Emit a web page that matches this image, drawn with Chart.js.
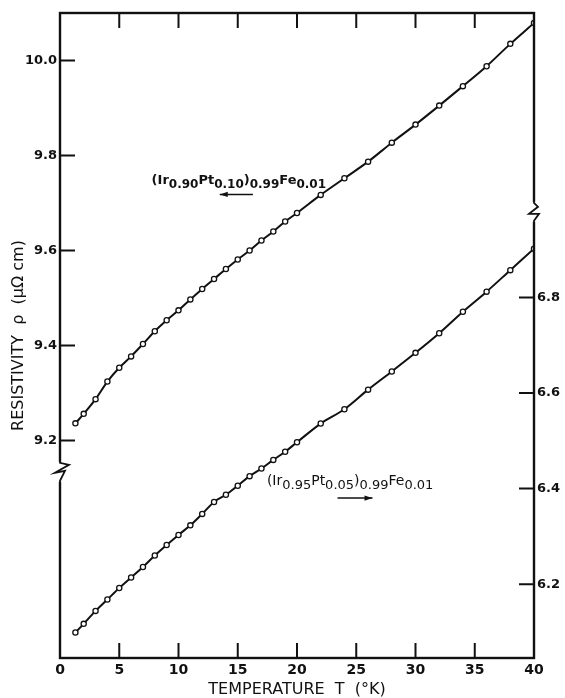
<!DOCTYPE html>
<html>
<head>
<meta charset="utf-8">
<script src="https://cdn.jsdelivr.net/npm/chart.js@4/dist/chart.umd.min.js"></script>
<style>
  html, body { margin: 0; padding: 0; background: #fff; }
  #wrap { width: 565px; height: 698px; }
</style>
</head>
<body>
<div id="wrap"><canvas id="c" width="565" height="698"></canvas></div>
<script>
// ---- data ----
const T_VALUES = [1.3, 2, 3, 4, 5, 6, 7, 8, 9, 10, 11, 12, 13, 14, 15, 16, 17, 18, 19, 20, 22, 24, 26, 28, 30, 32, 34, 36, 38, 40];
// (Ir0.90Pt0.10)0.99Fe0.01  -> left axis
const RHO_PT10 = [9.236, 9.256, 9.287, 9.324, 9.353, 9.377, 9.403, 9.430, 9.453, 9.474, 9.497, 9.519, 9.540, 9.561, 9.581, 9.600, 9.621, 9.640, 9.661, 9.679, 9.717, 9.752, 9.787, 9.827, 9.865, 9.905, 9.946, 9.988, 10.035, 10.079];
// (Ir0.95Pt0.05)0.99Fe0.01  -> right axis
const RHO_PT05 = [6.099, 6.117, 6.144, 6.168, 6.192, 6.214, 6.236, 6.260, 6.282, 6.303, 6.323, 6.347, 6.372, 6.387, 6.406, 6.426, 6.442, 6.460, 6.477, 6.497, 6.536, 6.566, 6.607, 6.645, 6.684, 6.725, 6.770, 6.812, 6.857, 6.902];

const X_TICKS = [0, 5, 10, 15, 20, 25, 30, 35, 40];
const LEFT_TICKS = [9.2, 9.4, 9.6, 9.8, 10.0];
const RIGHT_TICKS = [6.2, 6.4, 6.6, 6.8];

const X_TITLE = 'TEMPERATURE  T  (\u00B0K)';
const Y_TITLE = 'RESISTIVITY  \u03C1  (\u03BC\u03A9 cm)';

const LABEL_PT10 = [['(Ir', 0], ['0.90', 1], ['Pt', 0], ['0.10', 1], [')', 0], ['0.99', 1], ['Fe', 0], ['0.01', 1]];
const LABEL_PT05 = [['(Ir', 0], ['0.95', 1], ['Pt', 0], ['0.05', 1], [')', 0], ['0.99', 1], ['Fe', 0], ['0.01', 1]];

// ---- options ----
const X_RANGE = [0, 40];
const LEFT_RANGE = [8.742, 10.100];
const RIGHT_RANGE = [6.0455, 7.395];
const LEFT_BREAK = 9.134;
const RIGHT_BREAK = 6.979;

const FONT = 'DejaVu Sans';
const INK = '#111';

function pts(xs, ys) { return xs.map((x, i) => ({ x: x, y: ys[i] })); }

function drawChem(ctx, x, y, parts, mainFont, subFont, subDy) {
  ctx.textAlign = 'left';
  ctx.textBaseline = 'alphabetic';
  let cx = x;
  parts.forEach(([t, sub]) => {
    ctx.font = sub ? subFont : mainFont;
    ctx.fillText(t, cx, sub ? y + subDy : y);
    cx += ctx.measureText(t).width;
  });
}

function drawArrow(ctx, x1, x2, y, headAtEnd) {
  ctx.beginPath();
  ctx.moveTo(x1, y); ctx.lineTo(x2, y);
  ctx.lineWidth = 1.5;
  ctx.stroke();
  const hx = headAtEnd ? x2 : x1;
  const dir = headAtEnd ? -1 : 1;
  ctx.beginPath();
  ctx.moveTo(hx, y);
  ctx.lineTo(hx + dir * 8, y - 2.6);
  ctx.lineTo(hx + dir * 8, y + 2.6);
  ctx.closePath();
  ctx.fill();
}

function drawBreak(ctx, x, y, shape) {
  ctx.fillStyle = '#fff';
  ctx.fillRect(x - 9, y - 10, 20, 20);
  ctx.fillStyle = INK;
  ctx.beginPath();
  shape.forEach(([dx, dy], i) => { if (i === 0) ctx.moveTo(x + dx, y + dy); else ctx.lineTo(x + dx, y + dy); });
  ctx.lineWidth = 1.8;
  ctx.stroke();
}

const decor = {
  id: 'decor',
  afterDraw(chart) {
    const { ctx, chartArea: a, scales } = chart;
    const xs = scales.x, yl = scales.y, yr = scales.y2;
    ctx.save();
    ctx.strokeStyle = INK;
    ctx.fillStyle = INK;
    // frame
    ctx.lineWidth = 2.4;
    ctx.strokeRect(a.left, a.top, a.right - a.left, a.bottom - a.top);
    // inward ticks
    ctx.lineWidth = 2;
    ctx.beginPath();
    X_TICKS.forEach(v => {
      if (v <= xs.min || v >= xs.max) return;
      const px = xs.getPixelForValue(v);
      ctx.moveTo(px, a.top); ctx.lineTo(px, a.top + 15);
      ctx.moveTo(px, a.bottom); ctx.lineTo(px, a.bottom - 15);
    });
    LEFT_TICKS.forEach(v => { const py = yl.getPixelForValue(v); ctx.moveTo(a.left, py); ctx.lineTo(a.left + 15, py); });
    RIGHT_TICKS.forEach(v => { const py = yr.getPixelForValue(v); ctx.moveTo(a.right, py); ctx.lineTo(a.right - 15, py); });
    ctx.stroke();
    // axis breaks
    drawBreak(ctx, a.left, yl.getPixelForValue(LEFT_BREAK), [[0, -11], [0, -9], [9, -7], [-5, 1], [5, -1], [0, 9], [0, 11]]);
    drawBreak(ctx, a.right, yr.getPixelForValue(RIGHT_BREAK), [[0, -11], [0, -9], [4, -5], [-5, 2], [5, 2], [0, 9], [0, 11]]);
    // series labels
    ctx.fillStyle = INK; ctx.strokeStyle = INK;
    drawChem(ctx, xs.getPixelForValue(7.73), yl.getPixelForValue(9.741), LABEL_PT10,
      'bold 13px "' + FONT + '"', 'bold 12px "' + FONT + '"', 4);
    drawArrow(ctx, xs.getPixelForValue(13.48), xs.getPixelForValue(16.28), yl.getPixelForValue(9.718), false);
    drawChem(ctx, xs.getPixelForValue(17.46), yr.getPixelForValue(6.407), LABEL_PT05,
      '14px "' + FONT + '"', '13px "' + FONT + '"', 4);
    drawArrow(ctx, xs.getPixelForValue(23.42), xs.getPixelForValue(26.37), yr.getPixelForValue(6.380), true);
    ctx.restore();
  }
};

const seriesStyle = {
  borderColor: INK,
  borderWidth: 2,
  pointRadius: 2.6,
  pointBorderWidth: 1.3,
  pointBackgroundColor: '#fff',
  pointBorderColor: INK,
  cubicInterpolationMode: 'monotone',
  fill: false
};

new Chart(document.getElementById('c'), {
  type: 'line',
  data: {
    datasets: [
      Object.assign({ label: '(Ir0.90Pt0.10)0.99Fe0.01', data: pts(T_VALUES, RHO_PT10), yAxisID: 'y' }, seriesStyle),
      Object.assign({ label: '(Ir0.95Pt0.05)0.99Fe0.01', data: pts(T_VALUES, RHO_PT05), yAxisID: 'y2' }, seriesStyle)
    ]
  },
  options: {
    responsive: false,
    animation: false,
    devicePixelRatio: 1,
    layout: { padding: { top: 13, left: 0, right: 0, bottom: 0 } },
    plugins: { legend: { display: false }, tooltip: { enabled: false } },
    scales: {
      x: {
        type: 'linear', position: 'bottom',
        min: X_RANGE[0], max: X_RANGE[1],
        afterBuildTicks: s => { s.ticks = X_TICKS.map(v => ({ value: v })); },
        afterFit: s => { s.height = 40; },
        grid: { display: false, drawTicks: false },
        border: { display: false },
        ticks: { color: INK, padding: 4, font: { family: FONT, size: 14, weight: 'bold' }, maxRotation: 0, callback: v => String(v) },
        title: { display: true, text: X_TITLE, color: INK, padding: { top: 0, bottom: 0 }, font: { family: FONT, size: 16, lineHeight: 1 } }
      },
      y: {
        type: 'linear', position: 'left',
        min: LEFT_RANGE[0], max: LEFT_RANGE[1],
        afterBuildTicks: s => { s.ticks = LEFT_TICKS.map(v => ({ value: v })); },
        afterFit: s => { s.width = 60; },
        grid: { display: false, drawTicks: false },
        border: { display: false },
        ticks: { color: INK, padding: 3, font: { family: FONT, size: 13, weight: 'bold' }, callback: v => Number(v).toFixed(1) },
        title: { display: true, text: Y_TITLE, color: INK, padding: { top: 11, bottom: 0 }, font: { family: FONT, size: 16, lineHeight: 1 } }
      },
      y2: {
        type: 'linear', position: 'right',
        min: RIGHT_RANGE[0], max: RIGHT_RANGE[1],
        afterBuildTicks: s => { s.ticks = RIGHT_TICKS.map(v => ({ value: v })); },
        afterFit: s => { s.width = 31; },
        grid: { display: false, drawTicks: false },
        border: { display: false },
        ticks: { color: INK, padding: 3, font: { family: FONT, size: 13, weight: 'bold' }, callback: v => Number(v).toFixed(1) }
      }
    }
  },
  plugins: [decor]
});
</script>
</body>
</html>
